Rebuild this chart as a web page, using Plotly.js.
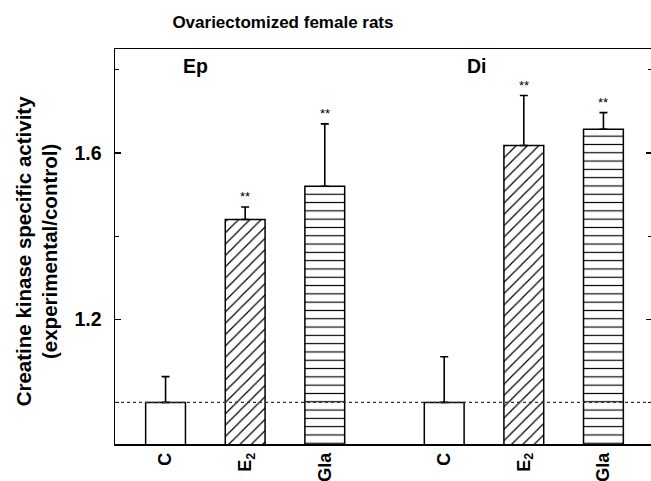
<!DOCTYPE html>
<html>
<head>
<meta charset="utf-8">
<script src="https://cdn.plot.ly/plotly-3.0.1.min.js"></script>
<style>
html,body{margin:0;padding:0;overflow:hidden;background:#fff;width:651px;height:481px;}
#chart{width:655px;height:481px;}
</style>
</head>
<body>
<div id="chart"></div>
<script>
// ---- data ----
var groups = ['Ep', 'Di'];
var treatments = ['C', 'E<sub>2</sub>', 'Gla'];
var valuesC   = [1.00, 1.00];
var valuesE2  = [1.44, 1.618];
var valuesGla = [1.52, 1.657];
var errC   = [0.062, 0.11];
var errE2  = [0.03, 0.12];
var errGla = [0.15, 0.04];
var significance = [['', '**', '**'], ['', '**', '**']];
var yTickVals = [1.2, 1.6];
var yTickText = ['1.2', '1.6'];
var controlLevel = 1.0;

// positions of bars along the x axis (layout)
var groupStep = 3.5;
function pos(gi, ti) { return gi * groupStep + ti; }
var groupLabelOffset = [0.37, 0.41];

var FONT = 'Liberation Sans, Arial, Helvetica, sans-serif';
var allVals = [valuesC, valuesE2, valuesGla];
var allErr = [errC, errE2, errGla];
var patterns = [
  {shape: ''},
  {shape: '/', size: 8, solidity: 0.15, fgcolor: '#000', fgopacity: 1, bgcolor: '#fff', fillmode: 'overlay'},
  {shape: '-', size: 8.3, solidity: 0.14, fgcolor: '#000', fgopacity: 1, bgcolor: '#fff', fillmode: 'overlay'}
];

var traces = [];
for (var t = 0; t < treatments.length; t++) {
  var xs = [];
  for (var g = 0; g < groups.length; g++) xs.push(pos(g, t));
  traces.push({
    type: 'bar',
    x: xs,
    y: allVals[t],
    base: 0,
    width: 0.5,
    marker: {color: '#fff', line: {color: '#000', width: 1.5}, pattern: patterns[t]},
    error_y: {type: 'data', symmetric: false, array: allErr[t], arrayminus: allErr[t].map(function(){return 0;}),
              color: '#000', thickness: 1.6, width: 4},
    showlegend: false,
    hoverinfo: 'skip'
  });
}

var tickvals = [], ticktext = [];
for (var g = 0; g < groups.length; g++) {
  for (var t = 0; t < treatments.length; t++) {
    tickvals.push(pos(g, t));
    ticktext.push(treatments[t]);
  }
}

var annotations = [];
for (var g = 0; g < groups.length; g++) {
  annotations.push({
    x: pos(g, 0) + groupLabelOffset[g], y: 1.81, xref: 'x', yref: 'y', text: '<b>' + groups[g] + '</b>',
    showarrow: false, font: {family: FONT, size: 19.5, color: '#000'},
    xanchor: 'center', yanchor: 'middle'
  });
  for (var t = 0; t < treatments.length; t++) {
    if (significance[g][t]) {
      annotations.push({
        x: pos(g, t), y: allVals[t][g] + allErr[t][g], xref: 'x', yref: 'y',
        text: significance[g][t], showarrow: false, yanchor: 'bottom', yshift: 1,
        font: {family: FONT, size: 13, color: '#000'}
      });
    }
  }
}
annotations.push({
  xref: 'paper', yref: 'paper', x: -0.1462, y: 0.489,
  text: '<b>Creatine kinase specific activity<br>(experimental/control)</b>',
  showarrow: false, textangle: -90, xanchor: 'center', yanchor: 'middle',
  font: {family: FONT, size: 20.5, color: '#000'}
});

var layout = {
  width: 655, height: 481,
  margin: {l: 115, r: 3, t: 49, b: 37},
  paper_bgcolor: '#fff', plot_bgcolor: '#fff',
  title: {text: '<b>Ovariectomized female rats</b>', xref: 'container', x: 0.432, xanchor: 'center',
          yref: 'container', y: 0.954, yanchor: 'middle',
          font: {family: FONT, size: 17, color: '#000'}},
  xaxis: {
    range: [-0.635, 6.11], tickvals: tickvals, ticktext: ticktext, tickangle: -90,
    showline: true, linecolor: '#000', linewidth: 1.5, mirror: true, ticks: '',
    showgrid: false, zeroline: false,
    tickfont: {family: FONT, size: 18, color: '#000', weight: 'bold'}
  },
  yaxis: {
    range: [0.9, 1.85], tickvals: yTickVals, ticktext: yTickText,
    showline: true, linecolor: '#000', linewidth: 1.5, mirror: 'ticks',
    ticks: 'inside', ticklen: 6, tickwidth: 1.5, tickcolor: '#000',
    minor: {tickvals: [1.0, 1.4, 1.8], ticks: 'inside', ticklen: 4, tickwidth: 1.2, tickcolor: '#000'},
    showgrid: false, zeroline: false, ticklabelstandoff: 8,
    tickfont: {family: FONT, size: 19.5, color: '#000', weight: 'bold'}
  },
  shapes: [{
    type: 'line', xref: 'paper', x0: 0, x1: 1, yref: 'y', y0: controlLevel, y1: controlLevel,
    line: {color: '#333', width: 1.2, dash: 'dot'}, layer: 'above'
  }],
  annotations: annotations,
  bargap: 0
};

Plotly.newPlot('chart', traces, layout, {staticPlot: true, displayModeBar: false});
</script>
</body>
</html>
